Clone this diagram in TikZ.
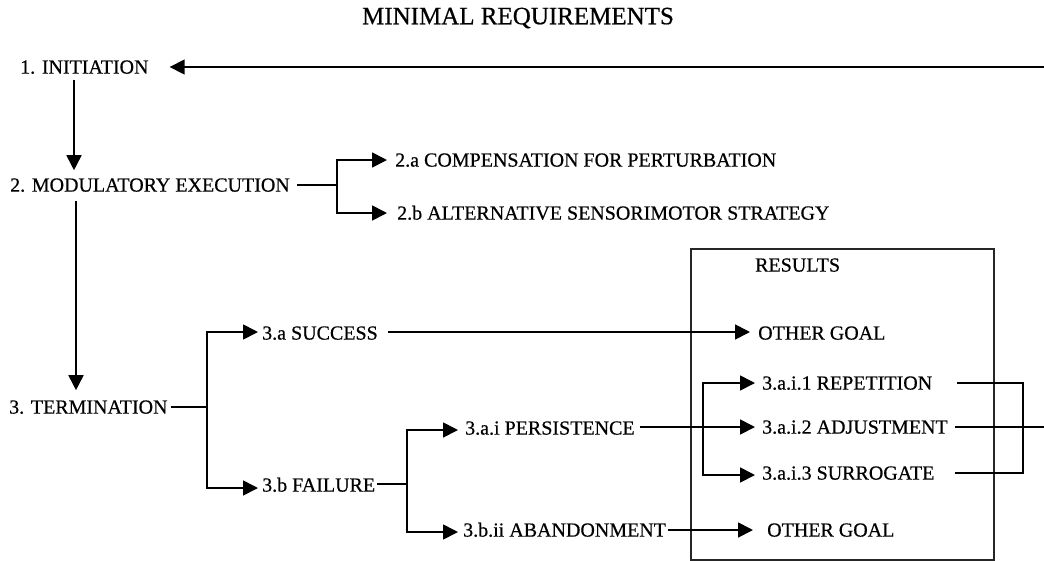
\documentclass[tikz,border=0pt]{standalone}
\usepackage{fontspec}
\setmainfont{Liberation Serif}[FakeBold=0.5]
\usetikzlibrary{arrows.meta,calc}
\tikzset{
  lbl/.style={anchor=west, inner sep=0pt, text height=13.2pt, text depth=0pt, font=\fontsize{20}{24}\selectfont},
  ttl/.style={anchor=center, inner sep=0pt, font=\fontsize{25}{30}\selectfont},
  conn/.style={line width=1.7pt, draw=black},
  arr/.style={conn, -{Triangle[length=15pt,width=15pt]}},
  resbox/.style={draw=black!85, line width=1.5pt, anchor=north west, inner sep=0pt, minimum width=303pt, minimum height=311pt}
}
\begin{document}
\begin{tikzpicture}[x=1pt,y=-1pt]
\useasboundingbox[fill=white] (0,0) rectangle (1044,560);

% results box
\node[resbox] (box) at (690,248) {};

% text nodes
\node[ttl] (title) at (518,18) {MINIMAL REQUIREMENTS};
\node[lbl] (init) at (20,67) {1. INITIATION};
\node[lbl] (mod) at (10,185) {2. MODULATORY EXECUTION};
\node[lbl] (c2a) at (395,160) {2.a COMPENSATION FOR PERTURBATION};
\node[lbl] (c2b) at (397,213) {2.b ALTERNATIVE SENSORIMOTOR STRATEGY};
\node[lbl] (term) at (9,407) {3. TERMINATION};
\node[lbl] (succ) at (262,333) {3.a SUCCESS};
\node[lbl] (fail) at (262,485) {3.b FAILURE};
\node[lbl] (pers) at (465,428) {3.a.i PERSISTENCE};
\node[lbl] (aban) at (463,530) {3.b.ii ABANDONMENT};
\node[lbl] (res) at (755,265) {RESULTS};
\node[lbl] (og1) at (758,333) {OTHER GOAL};
\node[lbl] (rep) at (762,383) {3.a.i.1 REPETITION};
\node[lbl] (adj) at (762,427) {3.a.i.2 ADJUSTMENT};
\node[lbl] (sur) at (762,473) {3.a.i.3 SURROGATE};
\node[lbl] (og2) at (767,530) {OTHER GOAL};

% helper coordinates
\coordinate (fb) at (1044,67);
\coordinate (v1) at (74,0);
\coordinate (v2) at (76,0);
\coordinate (j2) at (337,185);
\coordinate (j3) at (207,407);
\coordinate (j3b) at (407,484);
\coordinate (j4) at (703,427);
\coordinate (jr) at (1023,427);
\coordinate (out) at (1044,427);

% feedback to initiation
\draw[arr] (fb) -- ($(init.east)+(21,0)$);
% initiation -> modulatory
\draw[arr] ($(init.south -| v1)+(0,6)$) -- ($(mod.north -| v1)+(0,-8)$);
% modulatory -> 2.a / 2.b
\draw[conn] ($(mod.east)+(7,0)$) -- (j2);
\draw[arr] (j2) |- ($(c2a.west)+(-8,0)$);
\draw[arr] (j2) |- ($(c2b.west)+(-10,0)$);
% modulatory -> termination
\draw[arr] ($(mod.south -| v2)+(0,9)$) -- ($(term.north -| v2)+(0,-10)$);
% termination -> success / failure
\draw[conn] ($(term.east)+(3,0)$) -- (j3);
\draw[arr] (j3) |- ($(succ.west)+(-4,-1)$);
\draw[arr] (j3) |- ($(fail.west)+(-4,3)$);
% success -> other goal
\draw[arr] ($(succ.east)+(10,-1)$) -- ($(og1.west)+(-8,-1)$);
% failure -> persistence / abandonment
\draw[conn] ($(fail.east)+(2,-1)$) -- (j3b);
\draw[arr] (j3b) |- ($(pers.west)+(-7,2)$);
\draw[arr] (j3b) |- ($(aban.west)+(-5,2)$);
% persistence -> adjustment (+ repetition, surrogate)
\draw[arr] ($(pers.east)+(5,-1)$) -- ($(adj.west)+(-7,0)$);
\draw[arr] (j4) |- ($(rep.west)+(-7,0)$);
\draw[arr] (j4) |- ($(sur.west)+(-7,2)$);
% abandonment -> other goal
\draw[arr] ($(aban.east)+(2,0)$) -- ($(og2.west)+(-14,0)$);
% right loop
\draw[conn] ($(rep.east)+(25,0)$) -| (jr) |- ($(sur.east)+(20,0)$);
\draw[conn] ($(adj.east)+(7,0)$) -- (out);
\end{tikzpicture}
\end{document}
